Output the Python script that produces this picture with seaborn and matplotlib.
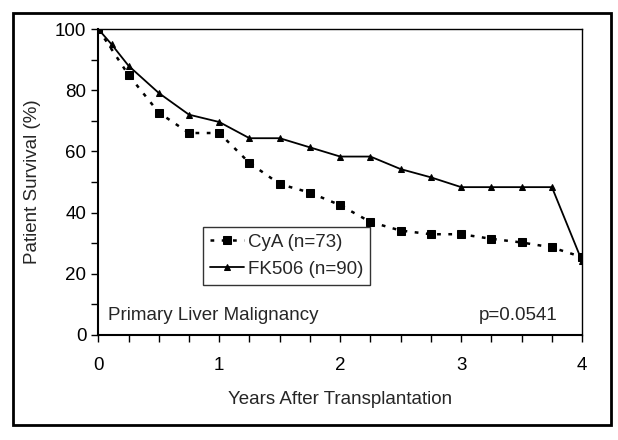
import pandas as pd
import matplotlib
matplotlib.use("Agg")
import matplotlib.pyplot as plt
import seaborn as sns
from matplotlib.patches import Rectangle
from matplotlib.ticker import MultipleLocator

# Survival data
years_cya = [0, 0.25, 0.5, 0.75, 1.0, 1.25, 1.5, 1.75, 2.0, 2.25, 2.5, 2.75, 3.0, 3.25, 3.5, 3.75, 4.0]
cya = [100, 85.0, 72.7, 66.0, 66.0, 56.2, 49.3, 46.5, 42.4, 36.9, 34.1, 32.9, 32.9, 31.4, 30.2, 28.6, 25.4]

years_fk = [0, 0.11, 0.25, 0.5, 0.75, 1.0, 1.25, 1.5, 1.75, 2.0, 2.25, 2.5, 2.75, 3.0, 3.25, 3.5, 3.75, 4.0]
fk506 = [100, 95.0, 88.0, 79.1, 72.0, 69.6, 64.3, 64.3, 61.3, 58.3, 58.3, 54.2, 51.5, 48.3, 48.3, 48.3, 48.3, 24.0]

labels = ["CyA (n=73)", "FK506 (n=90)"]

df_cya = pd.DataFrame({"Years": years_cya, "Survival": cya})
df_fk = pd.DataFrame({"Years": years_fk, "Survival": fk506})

sns.set_style("white")
plt.rcParams["font.family"] = ["Liberation Sans", "DejaVu Sans"]
FS = 13.5

fig = plt.figure(figsize=(6.18, 4.4), dpi=100)
ax = fig.add_axes([0.159, 0.239, 0.783, 0.695])

sns.lineplot(data=df_cya, x="Years", y="Survival", ax=ax, color="black",
             linestyle=(0, (1.5, 3)), linewidth=1.8, marker="s", markersize=6,
             markeredgecolor="black", label=labels[0])
sns.lineplot(data=df_fk, x="Years", y="Survival", ax=ax, color="black",
             linestyle="-", linewidth=1.3, marker="^", markersize=5,
             markeredgecolor="black", label=labels[1])

ax.set_xlim(0, 4)
ax.set_ylim(0, 100)
ax.xaxis.set_major_locator(MultipleLocator(1))
ax.xaxis.set_minor_locator(MultipleLocator(0.25))
ax.yaxis.set_major_locator(MultipleLocator(20))
ax.yaxis.set_minor_locator(MultipleLocator(10))
ax.tick_params(axis="both", which="both", direction="out", length=5, width=1,
               colors="black", labelsize=FS, bottom=True, left=True)
ax.tick_params(axis="x", pad=11)
for s in ax.spines.values():
    s.set_color("black")
ax.spines["left"].set_linewidth(1.5)
ax.spines["bottom"].set_linewidth(1.5)
ax.spines["top"].set_linewidth(1.0)
ax.spines["right"].set_linewidth(1.0)

ax.set_xlabel("Years After Transplantation", fontsize=FS, labelpad=12)
ax.set_ylabel("Patient Survival (%)", fontsize=FS, labelpad=10)

ax.text(0.02, 0.035, "Primary Liver Malignancy", transform=ax.transAxes,
        fontsize=FS, ha="left", va="bottom")
ax.text(0.95, 0.035, "p=0.0541", transform=ax.transAxes,
        fontsize=FS, ha="right", va="bottom")

leg = ax.legend(loc="upper left", bbox_to_anchor=(0.217, 0.353), fontsize=FS,
                frameon=True, fancybox=False, edgecolor="black", numpoints=1,
                handlelength=1.8, borderpad=0.35, labelspacing=0.55, handletextpad=0.25,
                borderaxespad=0)
leg.get_frame().set_linewidth(1.0)

fig.patches.append(Rectangle((13 / 618, 15 / 440), 598 / 618, 412 / 440,
                             transform=fig.transFigure, fill=False,
                             edgecolor="black", linewidth=2))

fig.savefig("out.png", dpi=100)
